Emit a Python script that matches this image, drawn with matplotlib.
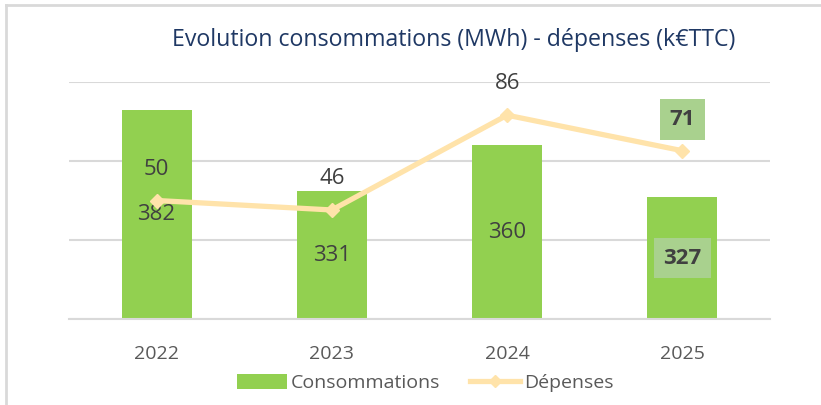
import matplotlib
matplotlib.use("Agg")
import matplotlib.pyplot as plt
from matplotlib.lines import Line2D
from matplotlib.patches import Patch

plt.rcParams['font.family'] = ['Open Sans', 'DejaVu Sans']

years = ["2022", "2023", "2024", "2025"]
consommations = [382, 331, 360, 327]
depenses = [50, 46, 86, 71]

bar_color = "#92D050"
line_color = "#FFE3AA"
text_color = "#404040"
tick_color = "#595959"
grid_color = "#D9D9D9"

fig = plt.figure(figsize=(8.21, 4.05), dpi=100)
ax = fig.add_axes([69/821, 1-319/405, (770-69)/821, (319-82)/405])
ax2 = ax.twinx()

x = list(range(len(years)))
bars = ax.bar(x, consommations, width=0.4, color=bar_color, zorder=2)
ax.set_ylim(250, 400)
ax.set_yticks([250, 300, 350, 400])
ax.set_xlim(-0.5, 3.5)
ax.grid(axis='y', color=grid_color, linewidth=1.5, zorder=0)
ax.set_axisbelow(True)
for s in ax.spines.values():
    s.set_visible(False)
for s in ax2.spines.values():
    s.set_visible(False)
ax.spines['bottom'].set_visible(True)
ax.spines['bottom'].set_color(grid_color)
ax.spines['bottom'].set_linewidth(1.5)
ax.tick_params(axis='y', left=False, labelleft=False)
ax.tick_params(axis='x', bottom=False, labelsize=14, labelcolor=tick_color, pad=15)
ax.set_xticks(x)
ax.set_xticklabels(years)

ax2.plot(x, depenses, color=line_color, linewidth=3.8, marker='D', markersize=7,
         solid_capstyle='round', zorder=3)
ax2.set_ylim(0, 100)
ax2.tick_params(axis='y', right=False, labelright=False)
ax2.set_xlim(-0.5, 3.5)

# bar labels (centered)
for i, v in enumerate(consommations):
    y = 250 + (v - 250) / 2
    if i == 3:
        ax.text(i, y, str(v), ha='center', va='center', fontsize=16, fontweight='bold',
                color=text_color, zorder=5,
                bbox=dict(boxstyle='square,pad=0.42', facecolor='#A9D18E', edgecolor='none'))
    else:
        ax.text(i, y, str(v), ha='center', va='center', fontsize=16, color=text_color, zorder=5)

# line labels (above)
for i, v in enumerate(depenses):
    if i == 3:
        ax2.annotate(str(v), (i, v), xytext=(0, 22.5), textcoords='offset points',
                     ha='center', va='center', fontsize=16, fontweight='bold', color=text_color,
                     zorder=5,
                     bbox=dict(boxstyle='square,pad=0.45', facecolor='#A9D18E', edgecolor='none'))
    else:
        ax2.annotate(str(v), (i, v), xytext=(0, 22.5), textcoords='offset points',
                     ha='center', va='center', fontsize=16, color=text_color, zorder=5)

fig.text(454/821, 1-40/405, "Evolution consommations (MWh) - dépenses (k€TTC)",
         ha='center', va='center', fontsize=16.7, color="#1F3864")

handles = [Patch(facecolor=bar_color, edgecolor='none'),
           Line2D([0], [0], color=line_color, linewidth=3.8, marker='D', markersize=6)]
fig.legend(handles, ["Consommations", "Dépenses"], loc='center', bbox_to_anchor=(425/821, 1-383/405),
           ncol=2, frameon=False, fontsize=14, labelcolor=tick_color, handlelength=2.6,
           handletextpad=0.2, columnspacing=1.5, handleheight=0.8)

# border
fig.add_artist(Line2D([6/821, 6/821], [0, 1-5/405], color=grid_color, linewidth=2))
fig.add_artist(Line2D([6/821, 1], [1-5/405, 1-5/405], color=grid_color, linewidth=2))

fig.savefig("out.png", dpi=100)
